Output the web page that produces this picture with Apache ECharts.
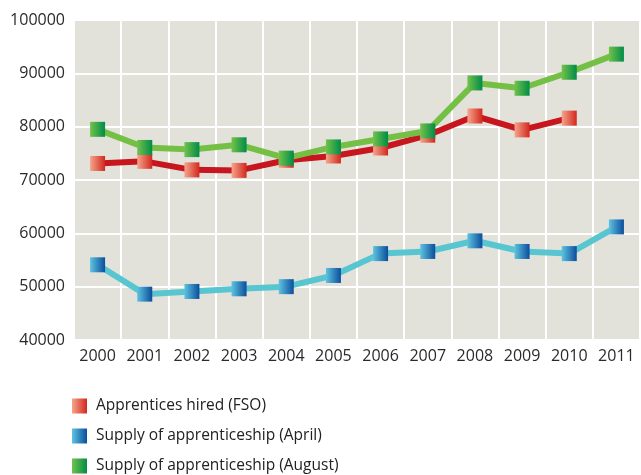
<!DOCTYPE html>
<html><head><meta charset="utf-8">
<script src="https://cdn.jsdelivr.net/npm/echarts@6/dist/echarts.min.js"></script>
<style>html,body{margin:0;padding:0;background:#fff}#c{width:641px;height:475px}</style>
</head><body><div id="c"></div>
<script>
const years = ['2000','2001','2002','2003','2004','2005','2006','2007','2008','2009','2010','2011'];
const hiredFSO = [73100, 73500, 71900, 71800, 73700, 74500, 76000, 78400, 82000, 79400, 81600, null];
const supplyApril = [54100, 48600, 49100, 49600, 50000, 52100, 56200, 56600, 58600, 56600, 56200, 61200];
const supplyAugust = [79500, 76100, 75700, 76600, 74100, 76200, 77700, 79200, 88200, 87200, 90200, 93600];
const seriesNames = ['Apprentices hired (FSO)', 'Supply of apprenticeship (April)', 'Supply of apprenticeship (August)'];

const chart = echarts.init(document.getElementById('c'));
function grad(a, b) {
  return new echarts.graphic.LinearGradient(0, 0, 1, 0, [{offset: 0, color: a}, {offset: 1, color: b}]);
}
function mk(name, data, line, c1, c2) {
  return {
    name: name, type: 'line', data: data,
    symbol: 'rect', symbolSize: 15, showAllSymbol: true,
    lineStyle: {color: line, width: 6},
    itemStyle: {color: grad(c1, c2)},
    emphasis: {disabled: true},
    animation: false
  };
}
chart.setOption({
  animation: false,
  textStyle: {fontFamily: 'Open Sans'},
  grid: {left: 74, top: 20, width: 566, height: 320, show: true, backgroundColor: '#e2e1da', borderWidth: 0},
  legend: {
    orient: 'vertical', left: 72, top: 398, height: 90, width: 400, itemGap: 14, itemWidth: 15, itemHeight: 15,
    icon: 'rect', padding: 0,
    textStyle: {fontSize: 15.5, color: '#222', fontFamily: 'Open Sans', padding: [0, 0, 0, 4]},
    data: seriesNames
  },
  xAxis: {
    type: 'category', data: years, boundaryGap: true,
    axisLine: {show: false}, axisTick: {show: false},
    axisLabel: {fontSize: 16, color: '#2a2a2a', margin: 8, interval: 0},
    splitLine: {show: true, interval: 0, lineStyle: {color: '#ffffff', width: 2}}
  },
  yAxis: {
    type: 'value', min: 40000, max: 100000, interval: 10000,
    axisLine: {show: false}, axisTick: {show: false},
    axisLabel: {fontSize: 16, color: '#2a2a2a', margin: 9, formatter: function (v) { return String(v); }},
    splitLine: {show: true, lineStyle: {color: '#ffffff', width: 2}}
  },
  series: [
    mk(seriesNames[0], hiredFSO, '#c8161e', '#f5a58c', '#d2281e'),
    mk(seriesNames[1], supplyApril, '#58c6d0', '#5ec3e0', '#0b4d9c'),
    mk(seriesNames[2], supplyAugust, '#74c044', '#72c24a', '#008c48')
  ]
});
</script></body></html>
